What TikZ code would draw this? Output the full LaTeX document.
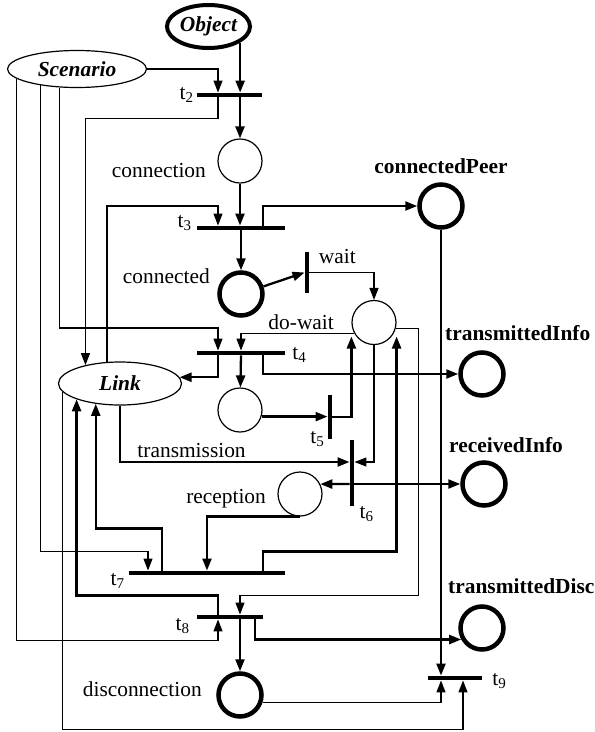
\documentclass[tikz,border=0pt]{standalone}
\usepackage{fontspec}
\setmainfont{Liberation Serif}
\usepackage{tikz}
\usetikzlibrary{arrows.meta,positioning,shapes.geometric}

\begin{document}
\begin{tikzpicture}[x=1pt,y=-1pt,font=\fontsize{21.4}{25}\selectfont]
% Net style
\tikzset{
    place/.style={circle,draw,line width=1.2pt,minimum size=44pt,inner sep=0pt},
    bplace/.style={place,line width=4.5pt,minimum size=43pt},
    hbar/.style={fill,inner sep=0pt,minimum height=4.5pt},
    vbar/.style={fill,inner sep=0pt,minimum width=4.5pt},
    token/.style={ellipse,draw,line width=1.2pt,inner sep=0pt,font=\fontsize{21.4}{25}\selectfont\bfseries\itshape},
    flow/.style={line width=1.2pt,-{Triangle[length=12pt,width=9pt]}},
    bflow/.style={flow,line width=2.3pt},
    tlab/.style={inner sep=1pt},
    plab/.style={inner sep=0pt,font=\fontsize{21.4}{25}\selectfont\bfseries}
}
\useasboundingbox (0,0) rectangle (595,732);
% Places
\node[token,line width=4pt,minimum width=83pt,minimum height=43pt] (obj) at (208.5,26.5){Object};
\node[token,minimum width=139pt,minimum height=37pt] (scen) at (77,69){Scenario};
\node[token,minimum width=123pt,minimum height=43pt] (link) at (120,383.5){Link};
\node[place] (conn) at (240,161){};
\node[bplace] (cnd) at (241,294){};
\node[bplace] (peer) at (441,206){};
\node[place] (dowait) at (374,322.5){};
\node[place] (pend) at (240,410){};
\node[bplace] (tinfo) at (482,374){};
\node[place] (recep) at (300,494){};
\node[bplace] (rinfo) at (484,484){};
\node[bplace] (tdisc) at (482,628){};
\node[bplace] (disc) at (240,695){};
% Transitions
\node[hbar,minimum width=65pt] (t2) at (229.5,95){};
\node[hbar,minimum width=88pt] (t3) at (241,228){};
\node[vbar,minimum height=41pt] (wait) at (307,272.5){};
\node[hbar,minimum width=88pt] (t4) at (241,353){};
\node[vbar,minimum height=44pt] (t5) at (330,417){};
\node[vbar,minimum height=66pt] (t6) at (352,473){};
\node[hbar,minimum width=156pt] (t7) at (207,573){};
\node[hbar,minimum width=66pt] (t8) at (230,617){};
\node[hbar,minimum width=54pt] (t9) at (455,678){};
% Labels
\node[tlab,left=2pt of t2.west] (l2) {t\textsubscript{2}};
\node[tlab,left=4pt of t3.west,yshift=5pt] (l3) {t\textsubscript{3}};
\node[tlab,right=6pt of t4.east,yshift=-2pt] (l4) {t\textsubscript{4}};
\node[tlab,left=2pt of t5.south west] (l5) {t\textsubscript{5}};
\node[tlab,right=4pt of t6.south east,yshift=-8pt] (l6) {t\textsubscript{6}};
\node[tlab,left=3pt of t7.west,yshift=-8pt] (l7) {t\textsubscript{7}};
\node[tlab,left=6pt of t8.west,yshift=-9pt] (l8) {t\textsubscript{8}};
\node[tlab,right=9pt of t9.east,yshift=-3pt] (l9) {t\textsubscript{9}};
\node[anchor=base east] (lconn) at ([xshift=-8pt,yshift=-16pt]conn.west) {connection};
\node[anchor=base east] (lcnd) at ([xshift=-4pt,yshift=11pt]cnd.west) {connected};
\node[anchor=base west] (lwait) at ([xshift=6pt,yshift=9pt]wait.east) {wait};
\node[anchor=base east] (ldowait) at ([xshift=-14pt,yshift=-7pt]dowait.west) {do-wait};
\node[anchor=base east] (lrecep) at ([xshift=-8pt,yshift=-9pt]recep.west) {reception};
\node[anchor=base east] (ldisc) at ([xshift=-11pt,yshift=-1pt]disc.west) {disconnection};
\node[plab,anchor=base] (lpeer) at ([yshift=9pt]peer.north) {connectedPeer};
\node[plab,anchor=base west] (ltinfo) at ([xshift=-37pt,yshift=10pt]tinfo.north) {transmittedInfo};
\node[plab,anchor=base west] (lrinfo) at ([xshift=-35pt,yshift=8pt]rinfo.north) {receivedInfo};
\node[plab,anchor=base west] (ltdisc) at ([xshift=-34pt,yshift=11pt]tdisc.north) {transmittedDisc};
% Arcs
\draw[bflow] (obj.333) -- (obj.333 |- t2.north);
\draw[flow] (scen.east) -| ([xshift=-11.5pt]t2.north);
\draw[bflow] ([xshift=10.5pt]t2.south) -- (conn);
\draw[flow] ([xshift=-11.5pt]t2.south) -- ++(0,21) -| (link.152);
\draw[flow] (link.121) -- (link.121 |- peer) -| ([xshift=-23pt]t3.north);
\draw[bflow] (conn) -- (conn |- t3.north);
\draw[bflow] (t3.south) -- (cnd);
\draw[bflow] ([xshift=22pt]t3.north) |- (peer);
\draw[bflow] (peer) -- (peer |- t9.north);
\draw[bflow] (cnd) -- (wait.west);
\draw[flow] (wait.east) -| (dowait);
\draw[flow] (dowait.210) -| (t4.north);
\draw[flow] (scen.227) -- ++(0,240.5) -| ([xshift=-23pt]t4.north);
\draw[bflow] ([xshift=-23pt]t4.south) |- (link.6);
\draw[bflow] (t4.south) -- (pend);
\draw[bflow] ([xshift=22pt]t4.south) |- (tinfo);
\draw[bflow] (pend.343) -- (pend.343 -| t5.west);
\draw[bflow] (t5.east) -| ([yshift=-14pt]dowait.west);
\draw[flow] (dowait) |- ([yshift=11pt]t6.east);
\draw[bflow] (link) |- node[anchor=base west,xshift=13pt,yshift=5pt] (ltrans) {transmission} ([yshift=11pt]t6.west);
\draw[bflow] ([yshift=-11pt]t6.west) -- (recep.26);
\draw[bflow] ([yshift=-11pt]t6.east) -- (rinfo);
\draw[bflow] (recep.south) -| (t7.north);
\draw[flow] (scen.204) -- ++(0,466) -| ([xshift=-59pt]t7.north);
\draw[bflow] ([xshift=-45pt]t7.north) -- ++(0,-42) -| (link.220);
\draw[bflow] ([xshift=56pt]t7.north) -- ++(0,-19) -| ([yshift=-14pt]dowait.east);
\draw[flow] (dowait.344) -| ++(23,267) -| ([xshift=10pt]t8.north);
\draw[bflow] ([xshift=-12pt]t8.north) -- ++(0,-19) -| (link.200);
\draw[flow] (scen.189) -- ++(0,562) -| ([xshift=-12pt]t8.south);
\draw[bflow] ([xshift=10pt]t8.south) -- (disc);
\draw[bflow] ([xshift=25pt]t8.south) |- (tdisc.209);
\draw[flow] (disc.342) -| ([xshift=-14pt]t9.south);
\draw[flow] (link.188) -- ++(0,337.6) -| ([xshift=8pt]t9.south);
\end{tikzpicture}
\end{document}
